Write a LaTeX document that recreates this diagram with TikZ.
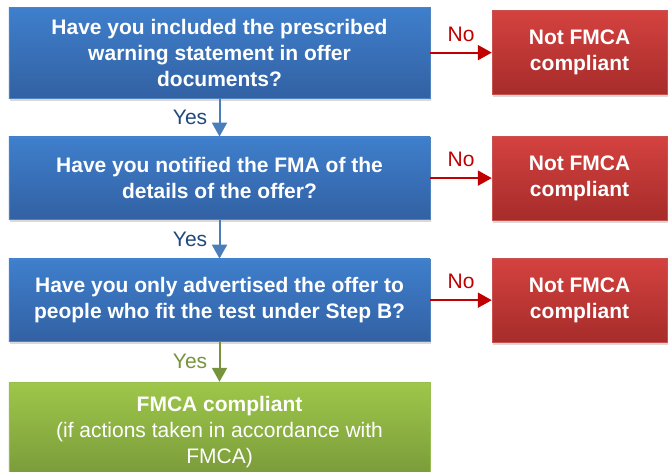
\documentclass[tikz,border=0pt]{standalone}
\usepackage{fontspec}
\setmainfont{Liberation Sans}
\usetikzlibrary{arrows.meta,shadows}

\definecolor{qtop}{RGB}{63,127,204}
\definecolor{qbot}{RGB}{50,97,163}
\definecolor{qline}{RGB}{80,130,190}
\definecolor{ntop}{RGB}{212,66,63}
\definecolor{nbot}{RGB}{166,44,42}
\definecolor{nline}{RGB}{200,80,78}
\definecolor{oktop}{RGB}{158,199,74}
\definecolor{okbot}{RGB}{120,152,57}
\definecolor{okline}{RGB}{150,190,80}
\definecolor{yesblue}{RGB}{74,126,187}
\definecolor{yestext}{RGB}{31,73,125}
\definecolor{nored}{RGB}{192,0,0}
\definecolor{yesgreen}{RGB}{119,147,60}

\begin{document}
\begin{tikzpicture}[
    every node/.style={font=\fontsize{21}{26}\selectfont},
    shade/.style={drop shadow={opacity=0.3, shadow xshift=1pt, shadow yshift=-2.5pt}},
    qbox/.style={shade, draw=qline, line width=0.6pt, top color=qtop, bottom color=qbot,
        text=white, font=\fontsize{21}{26}\selectfont\bfseries, align=center,
        minimum width=14.8cm, minimum height=2.9cm},
    nobox/.style={shade, draw=nline, line width=0.6pt, top color=ntop, bottom color=nbot,
        text=white, font=\fontsize{21}{26}\selectfont\bfseries, align=center,
        minimum width=6.15cm, minimum height=2.95cm},
    okbox/.style={shade, draw=okline, line width=0.6pt, top color=oktop, bottom color=okbot,
        text=white, align=center, minimum width=14.8cm, minimum height=3.5cm},
    yesline/.style={draw=yesblue, line width=2pt, -{Triangle[length=14pt, width=15pt]}},
    noline/.style={draw=nored, line width=2pt, -{Triangle[length=14pt, width=15pt]}}
]
\useasboundingbox (0,0) rectangle (23.513,-16.589);

% Questions
\node[qbox, minimum height=3.2cm] (q1) at (7.715,-1.85)
{Have you included the prescribed\\warning statement in offer\\documents?};
\node[qbox] (q2) at (7.715,-6.26)
{Have you notified the FMA of the\\details of the offer?};
\node[qbox] (q3) at (7.715,-10.55)
{Have you only advertised the offer to\\people who fit the test under Step B?};
\node[okbox] (ok) at (7.715,-15.18)
{\textbf{FMCA compliant}\\(if actions taken in accordance with\\FMCA)};

% Outcomes
\node[nobox] (n1) at (20.37,-1.85) {Not FMCA\\compliant};
\node[nobox] (n2) at (20.37,-6.26) {Not FMCA\\compliant};
\node[nobox] (n3) at (20.37,-10.55) {Not FMCA\\compliant};

% Yes
\draw[yesline] (q1) -- node[left=8pt, text=yestext] {Yes} (q2);
\draw[yesline] (q2) -- node[left=8pt, text=yestext] {Yes} (q3);
\draw[yesline, draw=yesgreen] (q3) -- node[left=8pt, text=yesgreen] {Yes} (ok);

% No
\draw[noline] (q1) -- node[above=7pt, text=nored] {No} (n1);
\draw[noline] (q2) -- node[above=7pt, text=nored] {No} (n2);
\draw[noline] (q3) -- node[above=7pt, text=nored] {No} (n3);

\end{tikzpicture}
\end{document}
